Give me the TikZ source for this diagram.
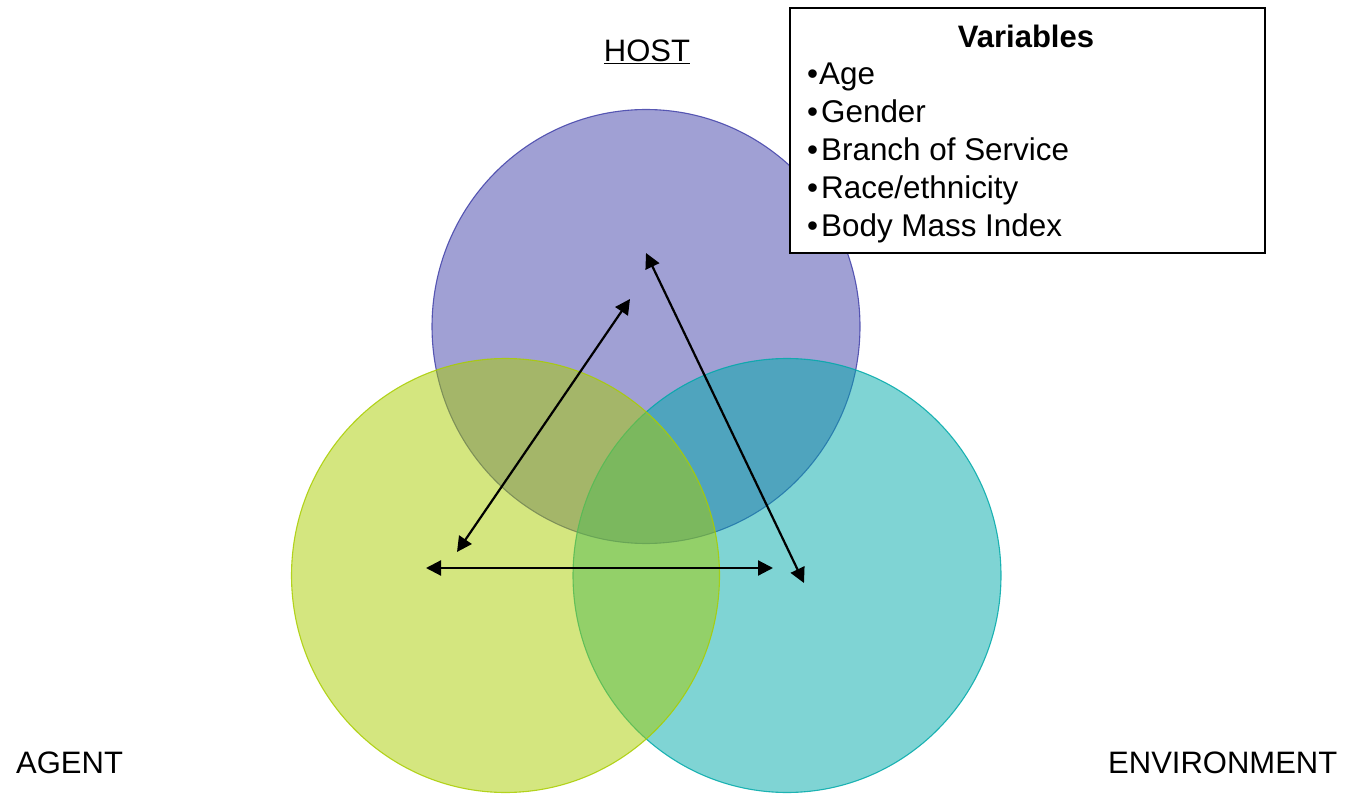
\documentclass[tikz,border=0pt]{standalone}
\usepackage{fontspec}
\setmainfont{Liberation Sans}
\usetikzlibrary{arrows.meta}
\definecolor{hostc}{RGB}{65,65,169}
\definecolor{agentc}{RGB}{169,205,0}
\definecolor{envc}{RGB}{0,169,169}
\tikzset{
  setcircle/.style={ellipse, minimum width=428pt, minimum height=434pt, inner sep=0pt, line width=1.1pt, fill opacity=0.5, draw opacity=0.85},
  lbl/.style={font=\fontsize{31}{37}\selectfont, inner sep=0pt},
  item/.style={font=\fontsize{31.4}{37}\selectfont, inner sep=0pt, anchor=base west},
  rel/.style={line width=2.2pt, {Triangle[length=15pt,width=15pt]}-{Triangle[length=15pt,width=15pt]}}
}
\usetikzlibrary{shapes.geometric}
\begin{document}
\begin{tikzpicture}[x=1pt,y=-1pt]
\useasboundingbox (0,0) rectangle (1347,794);
% circles: host, environment, agent
\node[setcircle, draw=hostc, fill=hostc] (hostcirc) at (646,326.5) {};
\node[setcircle, draw=envc, fill=envc] (envcirc) at (787,575.5) {};
\node[setcircle, draw=agentc, fill=agentc] (agentcirc) at (505.5,575.5) {};
% labels
\node[lbl, anchor=base] (host) at (647,62) {\underline{HOST}};
\node[lbl, anchor=base west] (agent) at (16,773) {AGENT};
\node[lbl, anchor=base west] (env) at (1108,773) {ENVIRONMENT};
% variables box
\node[draw, line width=1.6pt, fill=white, anchor=north west, minimum width=475pt, minimum height=245pt, inner sep=0pt] (box) at (789,7) {};
\node[lbl, anchor=base, font=\fontsize{31}{37}\selectfont\bfseries] (vtitle) at (1026,48) {Variables};
\node[item] (v1) at (807,85) {•\hspace{1pt}Age};
\node[item] (v2) at (807,123) {•\hspace{3pt}Gender};
\node[item] (v3) at (807,161) {•\hspace{3pt}Branch of Service};
\node[item] (v4) at (807,199) {•\hspace{3pt}Race/ethnicity};
\node[item] (v5) at (807,237) {•\hspace{3pt}Body Mass Index};
% arrow end points
\coordinate (a1) at (630,299);
\coordinate (a2) at (457,552);
\coordinate (b1) at (646,253);
\coordinate (b2) at (804,583);
\coordinate (c1) at (426,568);
\coordinate (c2) at (773,568);
\draw[rel] (a1) -- (a2);
\draw[rel] (b1) -- (b2);
\draw[rel] (c1) -- (c2);
\end{tikzpicture}
\end{document}
